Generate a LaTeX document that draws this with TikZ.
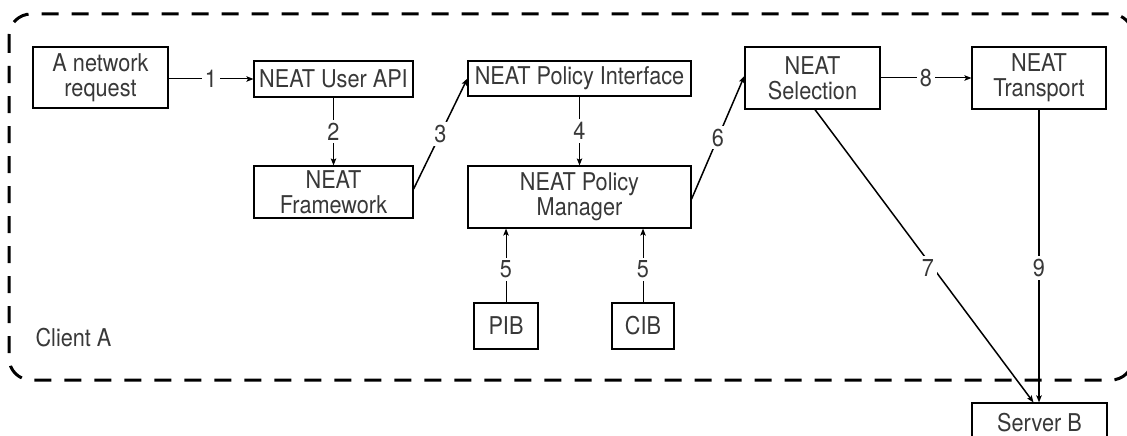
\documentclass[tikz,border=0pt]{standalone}
\usepackage{fontspec}
\setmainfont{TeX Gyre Heros}[FakeStretch=0.885]
\usetikzlibrary{arrows.meta}
\colorlet{txt}{black!78}
\tikzset{
  box/.style={draw, line width=1.2pt, rectangle, inner sep=0pt, align=center, text=txt, font=\fontsize{24.5}{25}\selectfont},
  conn/.style={line width=1pt, -{Stealth[length=7pt,width=5.5pt,inset=1.5pt]}},
  thick conn/.style={conn, line width=1.5pt},
  lbl/.style={fill=white, inner sep=3pt, text=txt, font=\fontsize{24.5}{25}\selectfont},
  border/.style={line width=3pt, dash pattern=on 17pt off 13pt, rounded corners=22pt}
}
\begin{document}
\begin{tikzpicture}[x=1pt,y=-1pt]
\useasboundingbox (0,0) rectangle (1127,436);
\draw[border] (9,14) rectangle (1133,380);
\node[box, minimum width=135pt, minimum height=61pt] (req) at (100.5,77.5) {A network\\request};
\node[box, minimum width=159pt, minimum height=36pt] (api) at (333.5,79) {NEAT User API};
\node[box, minimum width=159pt, minimum height=52pt] (fw) at (333.5,192) {NEAT\\Framework};
\node[box, minimum width=223pt, minimum height=35pt] (pi) at (579.5,78.5) {NEAT Policy Interface};
\node[box, minimum width=223pt, minimum height=62pt] (pm) at (579.5,197) {NEAT Policy\\Manager};
\node[box, minimum width=135pt, minimum height=62pt] (sel) at (812.5,78) {NEAT\\Selection};
\node[box, minimum width=134pt, minimum height=62pt] (tr) at (1039,78) {NEAT\\Transport};
\node[box, minimum width=64pt, minimum height=46pt] (pib) at (506,326) {PIB};
\node[box, minimum width=62pt, minimum height=46pt] (cib) at (643,326) {CIB};
\node[box, minimum width=135pt, minimum height=40pt] (srv) at (1039.5,423) {Server B};
\node[text=txt, font=\fontsize{24.5}{25}\selectfont, inner sep=0pt] (client) at (73.5,338) {Client A};

\draw[conn] (req.east |- api.west) -- node[lbl]{1} (api.west);
\draw[conn] (api.south) -- node[lbl]{2} (fw.north);
\draw[thick conn] ([yshift=3pt]fw.east) -- node[lbl]{3} (pi.west);
\draw[conn] (pi.south) -- node[lbl]{4} (pm.north);
\draw[thick conn] ([yshift=-2pt]pm.east) -- node[lbl]{6} ([yshift=2pt]sel.west);
\draw[conn] (pib.north) -- node[lbl, pos=0.45]{5} (pib.north |- pm.south);
\draw[conn] (cib.north) -- node[lbl, pos=0.45]{5} (cib.north |- pm.south);
\draw[conn] (sel.east) -- node[lbl]{8} (tr.west);
\draw[thick conn] ([xshift=2.5pt]sel.south) -- node[lbl, pos=0.54, xshift=-5pt]{7} ([xshift=-6pt]srv.north);
\draw[conn, line width=1.3pt] (tr.south) -- node[lbl, pos=0.54]{9} (tr.south |- srv.north);
\end{tikzpicture}
\end{document}
